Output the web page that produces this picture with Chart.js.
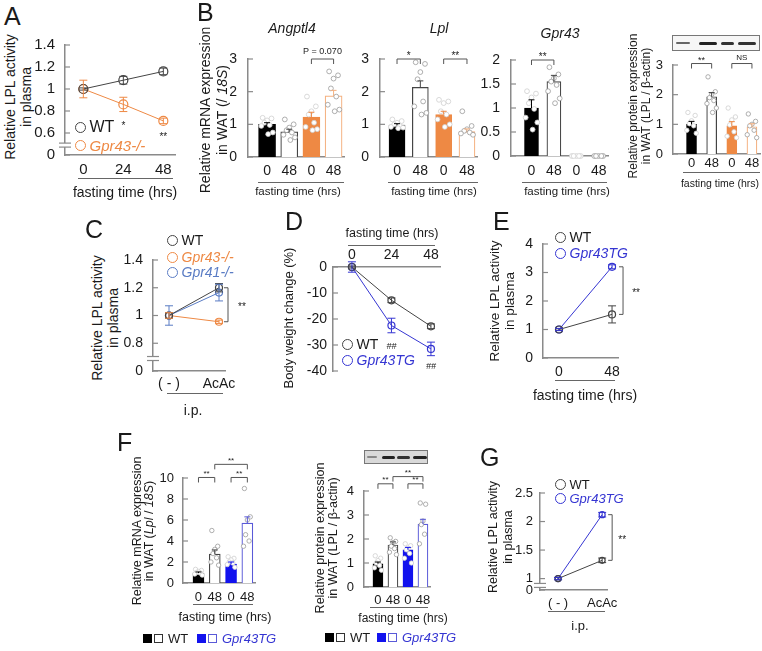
<!DOCTYPE html>
<html><head><meta charset="utf-8">
<script src="https://cdn.jsdelivr.net/npm/chart.js@4"></script>
<style>
body{margin:0;background:#fff;}
#fig{position:relative;width:762px;height:651px;overflow:hidden;font-family:"Liberation Sans",Arial,sans-serif;color:#1a1a1a;}
canvas{position:absolute;}
.t{position:absolute;white-space:nowrap;transform:translate(-50%,-50%);line-height:1;}
.r{transform:translate(-50%,-50%) rotate(-90deg);}
.lt{position:absolute;font-size:25px;line-height:1;}
.ul{position:absolute;height:0;border-top:1.2px solid #666;}
.dot{position:absolute;border-radius:50%;box-sizing:border-box;}
.sq{position:absolute;box-sizing:border-box;width:9px;height:9px;}
.blot{position:absolute;box-sizing:border-box;border:1px solid #777;}
.band{position:absolute;border-radius:2px;filter:blur(0.7px);}
</style></head><body><div id="fig"></div><script>
// ---------- data ----------
// A: plasma LPL activity during fasting
const aHours = [0, 24, 48];
const aHourLabels = ['0', '24', '48'];
const aWT = [1, 1.08, 1.16];
const aWTErr = [0.01, 0.035, 0.03];
const aKO = [1, 0.86, 0.71];
const aKOErr = [0.08, 0.065, 0.025];
const aYTicks = [0.4, 0.6, 0.8, 1, 1.2, 1.4];
const aYLabels = ['0', '0.6', '0.8', '1', '1.2', '1.4'];

// B: WAT expression, WT 0/48, Gpr43-/- 0/48
const bLabels = ['0', '48', '0', '48'];
const angMean = [1.0, 0.77, 1.22, 1.87];
const angErr = [0.05, 0.08, 0.15, 0.17];
const angDots = [[1.2, 1.18, 1.12, 1.05, 0.98, 0.95, 0.75, 0.7], [1.15, 1.0, 0.9, 0.82, 0.75, 0.68, 0.6, 0.52],
  [1.85, 1.55, 1.4, 1.3, 1.05, 0.92, 0.85, 0.82], [2.62, 2.5, 2.4, 2.1, 1.85, 1.6, 1.45, 1.4]];
const lplMean = [0.98, 2.13, 1.3, 0.78];
const lplErr = [0.04, 0.2, 0.1, 0.08];
const lplDots = [[1.15, 1.1, 1.05, 1.0, 0.95, 0.92, 0.9, 0.88], [2.9, 2.85, 2.6, 2.38, 1.7, 1.55, 1.35, 1.3],
  [1.75, 1.7, 1.65, 1.4, 1.3, 1.15, 1.0, 0.92], [1.4, 0.95, 0.85, 0.8, 0.75, 0.72, 0.68]];
const g43Mean = [1.0, 1.55, 0, 0];
const g43Err = [0.17, 0.13, 0, 0];
const g43Dots = [[1.35, 1.3, 1.22, 1.1, 0.98, 0.8, 0.7, 0.55], [1.85, 1.7, 1.62, 1.55, 1.48, 1.35, 1.2, 1.1],
  [0, 0, 0, 0, 0], [0, 0, 0, 0, 0]];
const protMean = [1.0, 1.93, 0.95, 0.92];
const protErr = [0.1, 0.14, 0.14, 0.1];
const protDots = [[1.4, 1.3, 1.12, 1.02, 0.95, 0.8, 0.7], [2.6, 2.1, 2.0, 1.9, 1.8, 1.7, 1.55, 1.4],
  [1.55, 1.25, 1.15, 0.98, 0.75, 0.6, 0.55], [1.35, 1.1, 1.0, 0.95, 0.8, 0.65, 0.55]];

// C: AcAc i.p.
const cDose = [0, 1];
const cLabels = ['( - )', 'AcAc'];
const cWT = [1, 1.2], cWTErr = [0.02, 0.03];
const c43 = [1, 0.955], c43Err = [0.02, 0.012];
const c41 = [1, 1.165], c41Err = [0.07, 0.06];
const cYTicks = [0.6, 0.8, 1, 1.2, 1.4];
const cYLabels = ['0', '0.8', '1', '1.2', '1.4'];

// D: body weight change
const dWT = [0, -12.8, -22.8], dWTErr = [0.4, 0.9, 0.9];
const dTG = [0, -22.5, -31.5], dTGErr = [2, 2.8, 2.6];
const dYTicks = [-40, -30, -20, -10, 0];

// E: plasma LPL, Gpr43TG
const eHours = [0, 48];
const eLabels = ['0', '48'];
const eWT = [1, 1.53], eWTErr = [0.03, 0.3];
const eTG = [1, 3.2], eTGErr = [0.04, 0.07];
const eYTicks = [0, 1, 2, 3, 4];

// F: WAT Lpl, WT vs Gpr43TG
const fMrnaMean = [0.95, 2.75, 1.8, 5.7];
const fMrnaErr = [0.1, 0.4, 0.2, 0.6];
const fMrnaDots = [[1.3, 1.2, 1.1, 1.0, 0.95, 0.85, 0.75], [5.0, 3.5, 3.2, 2.8, 2.4, 2.0, 1.7],
  [2.5, 2.35, 2.2, 2.0, 1.9, 1.75, 1.5], [9.0, 6.3, 6.0, 4.6, 4.0, 3.5]];
const fMrnaTicks = [0, 2, 4, 6, 8, 10];
const fProtMean = [0.97, 1.75, 1.55, 2.62];
const fProtErr = [0.07, 0.13, 0.1, 0.2];
const fProtDots = [[1.3, 1.2, 1.1, 1.0, 0.9, 0.8, 0.7], [2.05, 1.9, 1.85, 1.7, 1.6, 1.45, 1.35],
  [1.8, 1.72, 1.62, 1.55, 1.4, 1.2, 1.0], [3.5, 3.45, 2.75, 2.6, 2.2, 1.8]];
const fProtTicks = [0, 1, 2, 3, 4];

// G: AcAc i.p., Gpr43TG
const gWT = [1, 1.32], gWTErr = [0.02, 0.04];
const gTG = [1, 2.12], gTGErr = [0.02, 0.04];
const gYTicks = [0.8, 1, 1.5, 2, 2.5];
const gYLabels = ['0', '1', '1.5', '2', '2.5'];

// ---------- styles ----------
const FONT = '"Liberation Sans", Arial, sans-serif';
const AX = '#8a8a8a';
const WTC = '#444';
const OR = '#ee8944', ORL = '#f4b07f';
const B41 = '#5a7cc4';
const TG = '#3535d2';
const BF = '#1212ee', BFL = '#5a5ad8';
const JIT = [-0.2, 0.2, 0, -0.12, 0.12, -0.26, 0.26, 0.05];
const fig = document.getElementById('fig');

function seg(ctx, x1, y1, x2, y2) { ctx.beginPath(); ctx.moveTo(x1, y1); ctx.lineTo(x2, y2); ctx.stroke(); }
function label(ctx, s, x, cy, size, italic) {
  ctx.font = (italic ? 'italic ' : '') + size + 'px ' + FONT;
  ctx.textAlign = 'center'; ctx.textBaseline = 'alphabetic';
  const k = /^\*+$/.test(s) ? 0.57 : 0.36;
  ctx.fillText(s, x, cy + k * size);
}

// error bars, inward ticks, axis breaks, significance brackets
const deco = {
  id: 'deco',
  afterDatasetsDraw(chart, args, o) {
    const ctx = chart.ctx, xs = chart.scales.x, ys = chart.scales.y, a = chart.chartArea;
    ctx.save();
    ctx.lineWidth = 1.2; ctx.strokeStyle = AX;
    ys.ticks.forEach(t => { const py = ys.getPixelForValue(t.value); seg(ctx, a.left, py, a.left + 5, py); });
    if (o.brk != null) {
      const py = ys.getPixelForValue(o.brk);
      ctx.fillStyle = '#fff'; ctx.fillRect(a.left - 6, py - 2, 12, 4);
      seg(ctx, a.left - 6, py - 2, a.left + 6, py - 2); seg(ctx, a.left - 6, py + 2, a.left + 6, py + 2);
    }
    chart.data.datasets.forEach((ds, di) => {
      if (!ds.errs) return;
      chart.getDatasetMeta(di).data.forEach((el, i) => {
        const e = ds.errs[i]; if (!e) return;
        const v = ds.data[i].y, cw = ds.upOnly ? 3 : 4;
        const top = ys.getPixelForValue(v + e), bot = ys.getPixelForValue(ds.upOnly ? v : v - e);
        ctx.strokeStyle = Array.isArray(ds.errColor) ? ds.errColor[i] : ds.errColor;
        ctx.lineWidth = 1;
        seg(ctx, el.x, top, el.x, bot); seg(ctx, el.x - cw, top, el.x + cw, top);
        if (!ds.upOnly) seg(ctx, el.x - cw, bot, el.x + cw, bot);
      });
    });
    ctx.strokeStyle = '#555'; ctx.fillStyle = '#222'; ctx.lineWidth = 1;
    (o.hbr || []).forEach(b => {
      const x1 = xs.getPixelForValue(b.a), x2 = xs.getPixelForValue(b.b), py = ys.getPixelForValue(b.v);
      ctx.beginPath(); ctx.moveTo(x1, py + b.drop); ctx.lineTo(x1, py); ctx.lineTo(x2, py); ctx.lineTo(x2, py + b.drop); ctx.stroke();
      label(ctx, b.t, (x1 + x2) / 2, py - (b.gap || 6), b.size || 10, b.italic);
    });
    (o.vbr || []).forEach(b => {
      const px = xs.getPixelForValue(b.x) + b.dx, y1 = ys.getPixelForValue(b.v1), y2 = ys.getPixelForValue(b.v2);
      ctx.beginPath(); ctx.moveTo(px - 4, y1); ctx.lineTo(px, y1); ctx.lineTo(px, y2); ctx.lineTo(px - 4, y2); ctx.stroke();
      label(ctx, b.t, px + b.tdx, (y1 + y2) / 2, 10);
    });
    (o.notes || []).forEach(n => label(ctx, n.t, xs.getPixelForValue(n.x), ys.getPixelForValue(n.v), n.size || 10, n.italic));
    ctx.restore();
  }
};
Chart.register(deco);

function panel(c) {
  const P = 34, wy = 40, hx = 30;
  const cv = document.createElement('canvas');
  const cw = (c.R - c.L) + wy + 2 * P, ch = (c.B - c.T) + hx + 2 * P;
  cv.width = cw; cv.height = ch;
  cv.style.left = (c.L - wy - P) + 'px';
  cv.style.top = (c.xTop ? c.T - hx - P : c.T - P) + 'px';
  cv.style.width = cw + 'px'; cv.style.height = ch + 'px';
  fig.appendChild(cv);
  const border = { color: AX, width: 1.5 };
  new Chart(cv, {
    type: c.type,
    data: { datasets: c.datasets },
    options: {
      responsive: false, animation: false, devicePixelRatio: 1,
      layout: { padding: P },
      plugins: { legend: { display: false }, tooltip: { enabled: false }, deco: c.deco || {} },
      scales: {
        x: {
          type: 'linear', position: c.xTop ? 'top' : 'bottom', min: c.xmin, max: c.xmax, offset: false,
          grid: { display: false, drawTicks: false }, border,
          afterBuildTicks: s => { s.ticks = c.xTicks.map(v => ({ value: v })); },
          afterFit: s => { s.height = hx; },
          ticks: { callback: (v, i) => c.xLabels[i], padding: c.xPad, color: '#1a1a1a', maxRotation: 0, autoSkip: false,
            font: { family: FONT, size: c.fx, lineHeight: 1 } }
        },
        y: {
          type: 'linear', min: c.ymin, max: c.ymax,
          grid: { display: false, drawTicks: false }, border,
          afterBuildTicks: s => { s.ticks = c.yTicks.map(v => ({ value: v })); },
          afterFit: s => { s.width = wy; },
          ticks: { callback: (v, i) => c.yLabels[i], padding: c.yPad, color: '#1a1a1a', autoSkip: false,
            font: { family: FONT, size: c.fy, lineHeight: 1 } }
        }
      }
    }
  });
}

function lineSet(xs, ys, errs, color, r) {
  return { type: 'line', data: xs.map((x, i) => ({ x, y: ys[i] })), errs, errColor: color,
    borderColor: color, borderWidth: 1, pointRadius: r, pointBorderWidth: 1.2,
    pointBackgroundColor: 'rgba(255,255,255,0)', pointBorderColor: color, clip: false, tension: 0 };
}
function barSets(means, errs, dots, st) {
  const pts = [], bc = [], fc = [];
  dots.forEach((arr, i) => arr.forEach((v, k) => {
    pts.push({ x: i + JIT[k % JIT.length] * st.j, y: v });
    bc.push(st.filled[i] ? '#cfcfcf' : '#9a9a9a'); fc.push('#fff');
  }));
  return [
    { type: 'bar', order: 2, data: means.map((m, i) => ({ x: i, y: m })), errs, upOnly: true, errColor: st.err,
      backgroundColor: st.fill, borderColor: st.line, borderWidth: 1.2, barThickness: st.w },
    { type: 'scatter', order: 1, data: pts, pointRadius: st.r, pointBorderWidth: 0.8,
      pointBorderColor: bc, pointBackgroundColor: fc, clip: false }
  ];
}

// ---------- html helpers ----------
function txt(x, y, s, o = {}) {
  const d = document.createElement('div');
  d.className = 't' + (o.rot ? ' r' : '');
  d.style.left = x + 'px'; d.style.top = y + 'px';
  d.style.fontSize = (o.size || 14) + 'px';
  if (o.color) d.style.color = o.color;
  if (o.italic) d.style.fontStyle = 'italic';
  d.innerHTML = s;
  fig.appendChild(d);
}
function letter(x, y, s) {
  const d = document.createElement('div');
  d.className = 'lt'; d.style.left = x + 'px'; d.style.top = (y - 3) + 'px'; d.textContent = s;
  fig.appendChild(d);
}
function uline(x1, x2, y) {
  const d = document.createElement('div');
  d.className = 'ul'; d.style.left = x1 + 'px'; d.style.top = y + 'px'; d.style.width = (x2 - x1) + 'px';
  fig.appendChild(d);
}
function legend(x, y, s, color, size, italic, dia) {
  const c = document.createElement('div');
  c.className = 'dot';
  const dd = dia || 11;
  c.style.cssText += `left:${x - dd / 2}px;top:${y - dd / 2}px;width:${dd}px;height:${dd}px;border:1.5px solid ${color};`;
  fig.appendChild(c);
  const d = document.createElement('div');
  d.className = 't';
  d.style.cssText += `left:${x + dd / 2 + 4}px;top:${y}px;transform:translate(0,-50%);font-size:${size}px;color:${color === WTC ? '#1a1a1a' : color};${italic ? 'font-style:italic;' : ''}`;
  d.textContent = s;
  fig.appendChild(d);
}
function sqLegend(x, y, tgLeft) {
  const mk = (l, bg, bd) => { const s = document.createElement('div'); s.className = 'sq';
    s.style.cssText += `left:${l}px;top:${y - 4.5}px;background:${bg};border:1px solid ${bd};`; fig.appendChild(s); };
  mk(x, '#000', '#000'); mk(x + 11, '#fff', '#333');
  txt(x + 25, y, 'WT', { size: 13 }); fig.lastChild.style.transform = 'translate(0,-50%)';
  mk(tgLeft, BF, BF); mk(tgLeft + 11, '#fff', BFL);
  txt(tgLeft + 25, y, 'Gpr43TG', { size: 13, italic: true, color: TG }); fig.lastChild.style.transform = 'translate(0,-50%)';
}
function blot(l, t, w, h, bg, bands) {
  const b = document.createElement('div');
  b.className = 'blot'; b.style.cssText += `left:${l}px;top:${t}px;width:${w}px;height:${h}px;background:${bg};`;
  fig.appendChild(b);
  bands.forEach(([x1, x2, th, col]) => {
    const s = document.createElement('div'); s.className = 'band';
    s.style.cssText += `left:${x1}px;top:${t + h / 2 - th / 2}px;width:${x2 - x1}px;height:${th}px;background:${col};`;
    fig.appendChild(s);
  });
}

// ---------- A ----------
letter(4, 7, 'A');
txt(10, 97, 'Relative LPL activity', { rot: true, size: 14 });
txt(26, 97, 'in plasma', { rot: true, size: 14 });
panel({ type: 'line', L: 65, R: 175, T: 45, B: 155, xmin: -11, xmax: 55, xTicks: aHours, xLabels: aHourLabels,
  ymin: 0.4, ymax: 1.4, yTicks: aYTicks, yLabels: aYLabels, fx: 15, fy: 15, xPad: 7, yPad: 10,
  datasets: [lineSet(aHours, aWT, aWTErr, WTC, 4.5), lineSet(aHours, aKO, aKOErr, OR, 4.5)],
  deco: { brk: 0.49, notes: [{ x: 24, v: 0.69, t: '*' }, { x: 48, v: 0.59, t: '**' }] } });
legend(80, 127, 'WT', WTC, 16);
legend(80, 145, 'Gpr43-/-', OR, 15, true);
uline(78, 173, 178);
txt(125, 192, 'fasting time (hrs)', { size: 14 });

// ---------- B ----------
letter(197, 3, 'B');
txt(205, 110, 'Relative mRNA expression', { rot: true, size: 14 });
txt(222, 110, 'in WAT (/ <i>18S</i>)', { rot: true, size: 14 });
const bStyle = w => ({ w, j: 1, r: 2.4, fill: ['#000', '#fff', OR, '#fff'], line: ['#000', '#444', OR, ORL],
  err: ['#000', '#444', OR, ORL], filled: [true, false, true, false] });
panel({ type: 'bar', L: 248, R: 344, T: 59, B: 157, xmin: -0.86, xmax: 3.47, xTicks: [0, 1, 2, 3], xLabels: bLabels,
  ymin: 0, ymax: 3, yTicks: [0, 1, 2, 3], yLabels: ['0', '1', '2', '3'], fx: 14, fy: 14, xPad: 7, yPad: 11,
  datasets: barSets(angMean, angErr, angDots, bStyle(17)),
  deco: { hbr: [{ a: 2, b: 3, v: 3, drop: 5, t: 'P = 0.070', size: 9, gap: 8 }] } });
txt(292, 28, 'Angptl4', { size: 14, italic: true });
uline(258, 344, 182);
txt(298, 192, 'fasting time (hrs)', { size: 11.5 });

panel({ type: 'bar', L: 380, R: 477, T: 59, B: 157, xmin: -0.73, xmax: 3.43, xTicks: [0, 1, 2, 3], xLabels: bLabels,
  ymin: 0, ymax: 3, yTicks: [0, 1, 2, 3], yLabels: ['0', '1', '2', '3'], fx: 14, fy: 14, xPad: 7, yPad: 11,
  datasets: barSets(lplMean, lplErr, lplDots, bStyle(16)),
  deco: { hbr: [{ a: 0, b: 1, v: 3, drop: 5, t: '*' }, { a: 2, b: 3, v: 3, drop: 5, t: '**' }] } });
txt(439, 28, 'Lpl', { size: 14, italic: true });
uline(388, 478, 182);
txt(434, 192, 'fasting time (hrs)', { size: 11.5 });

panel({ type: 'bar', L: 511, R: 608, T: 60, B: 156, xmin: -0.915, xmax: 3.415, xTicks: [0, 1, 2, 3], xLabels: bLabels,
  ymin: 0, ymax: 2, yTicks: [0, 0.5, 1, 1.5, 2], yLabels: ['0', '0.5', '1', '1.5', '2'], fx: 14, fy: 14, xPad: 8, yPad: 11,
  datasets: barSets(g43Mean, g43Err, g43Dots, bStyle(14)),
  deco: { hbr: [{ a: 0, b: 1, v: 2, drop: 5, t: '**' }] } });
txt(560, 33, 'Gpr43', { size: 14, italic: true });
uline(522, 607, 182);
txt(567, 192, 'fasting time (hrs)', { size: 11.5 });

txt(633, 106, 'Relative protein expression', { rot: true, size: 12 });
txt(646, 106, 'in WAT (LPL / β-actin)', { rot: true, size: 12 });
blot(672, 35, 88, 16, '#f6f6f6', [[676, 690, 2, '#666'], [699, 717, 3, '#222'], [721, 734, 3, '#333'], [738, 756, 3, '#333']]);
panel({ type: 'bar', L: 673, R: 760, T: 65, B: 154, xmin: -0.92, xmax: 3.4, xTicks: [0, 1, 2, 3], xLabels: bLabels,
  ymin: 0, ymax: 3, yTicks: [0, 1, 2, 3], yLabels: ['0', '1', '2', '3'], fx: 13, fy: 13, xPad: 3, yPad: 10,
  datasets: barSets(protMean, protErr, protDots, { ...bStyle(10), r: 2.2, j: 0.9 }),
  deco: { hbr: [{ a: 0, b: 1, v: 3.05, drop: 5, t: '**', size: 9 }, { a: 2, b: 3, v: 3.05, drop: 5, t: 'NS', size: 8 }] } });
uline(683, 760, 172);
txt(720, 183, 'fasting time (hrs)', { size: 10.5 });

// ---------- C ----------
letter(85, 220, 'C');
txt(97, 318, 'Relative LPL activity', { rot: true, size: 14 });
txt(113, 318, 'in plasma', { rot: true, size: 14 });
panel({ type: 'line', L: 153, R: 225, T: 260, B: 371, xmin: -0.32, xmax: 1.12, xTicks: cDose, xLabels: cLabels,
  ymin: 0.6, ymax: 1.4, yTicks: cYTicks, yLabels: cYLabels, fx: 14, fy: 14, xPad: 6, yPad: 10,
  datasets: [lineSet(cDose, cWT, cWTErr, WTC, 3.5), lineSet(cDose, c41, c41Err, B41, 3.5), lineSet(cDose, c43, c43Err, OR, 3.5)],
  deco: { brk: 0.69, vbr: [{ x: 1, dx: 9, v1: 1.2, v2: 0.955, t: '**', tdx: 14 }] } });
legend(172, 240, 'WT', WTC, 14);
legend(172, 257, 'Gpr43-/-', OR, 14, true);
legend(172, 272, 'Gpr41-/-', B41, 14, true);
uline(167, 223, 393);
txt(193, 410, 'i.p.', { size: 14 });

// ---------- D ----------
letter(285, 212, 'D');
txt(288, 318, 'Body weight change (%)', { rot: true, size: 13 });
txt(392, 233, 'fasting time (hrs)', { size: 12.5 });
uline(348, 435, 245);
panel({ type: 'line', xTop: true, L: 333, R: 440, T: 267, B: 371, xmin: -11.5, xmax: 53.5, xTicks: aHours, xLabels: aHourLabels,
  ymin: -40, ymax: 0, yTicks: dYTicks, yLabels: dYTicks.map(String), fx: 14, fy: 14, xPad: 5, yPad: 6,
  datasets: [lineSet(aHours, dWT, dWTErr, WTC, 3.5), lineSet(aHours, dTG, dTGErr, TG, 3.5)],
  deco: { notes: [{ x: 24, v: -30.4, t: '##', size: 9, italic: true }, { x: 48, v: -38, t: '##', size: 9, italic: true }] } });
legend(347, 344, 'WT', WTC, 14);
legend(347, 360, 'Gpr43TG', TG, 14, true);

// ---------- E ----------
letter(493, 212, 'E');
txt(495, 301, 'Relative LPL activity', { rot: true, size: 13.5 });
txt(510, 301, 'in plasma', { rot: true, size: 13.5 });
panel({ type: 'line', L: 543, R: 618, T: 244, B: 358, xmin: -14.5, xmax: 53.4, xTicks: eHours, xLabels: eLabels,
  ymin: 0, ymax: 4, yTicks: eYTicks, yLabels: eYTicks.map(String), fx: 14, fy: 14, xPad: 7, yPad: 10,
  datasets: [lineSet(eHours, eWT, eWTErr, WTC, 3.5), lineSet(eHours, eTG, eTGErr, TG, 3.5)],
  deco: { vbr: [{ x: 48, dx: 11, v1: 3.2, v2: 1.53, t: '**', tdx: 13 }] } });
legend(560, 237, 'WT', WTC, 14);
legend(560, 253, 'Gpr43TG', TG, 14, true);
uline(555, 615, 380);
txt(585, 395, 'fasting time (hrs)', { size: 14 });

// ---------- F ----------
letter(117, 433, 'F');
txt(137, 531, 'Relative mRNA expression', { rot: true, size: 12.5 });
txt(149, 531, 'in WAT (<i>Lpl</i> / <i>18S</i>)', { rot: true, size: 12.5 });
const fStyle = w => ({ w, j: 0.9, r: 2.2, fill: ['#000', '#fff', BF, '#fff'], line: ['#000', '#444', BF, BFL],
  err: ['#000', '#444', BF, BFL], filled: [true, false, true, false] });
panel({ type: 'bar', L: 183, R: 255, T: 478, B: 583, xmin: -0.95, xmax: 3.47, xTicks: [0, 1, 2, 3], xLabels: bLabels,
  ymin: 0, ymax: 10, yTicks: fMrnaTicks, yLabels: fMrnaTicks.map(String), fx: 13, fy: 13, xPad: 7.5, yPad: 9,
  datasets: barSets(fMrnaMean, fMrnaErr, fMrnaDots, fStyle(11)),
  deco: { hbr: [{ a: 0, b: 1, v: 10.05, drop: 5, t: '**', size: 8 }, { a: 2, b: 3, v: 10.05, drop: 5, t: '**', size: 8 },
    { a: 1, b: 3, v: 11.3, drop: 5, t: '**', size: 8 }] } });
uline(193, 253, 604);
txt(225, 617, 'fasting time (hrs)', { size: 12.5 });
sqLegend(143, 638, 197);

txt(320, 538, 'Relative protein expression', { rot: true, size: 12.5 });
txt(333, 538, 'in WAT (LPL / β-actin)', { rot: true, size: 12.5 });
blot(364, 450, 64, 14, '#d9d9d9', [[367, 377, 2, '#888'], [382, 395, 3, '#222'], [397, 410, 3, '#333'], [413, 427, 3, '#222']]);
panel({ type: 'bar', L: 364, R: 430, T: 491, B: 587, xmin: -0.93, xmax: 3.47, xTicks: [0, 1, 2, 3], xLabels: bLabels,
  ymin: 0, ymax: 4, yTicks: fProtTicks, yLabels: fProtTicks.map(String), fx: 13, fy: 13, xPad: 6.5, yPad: 10,
  datasets: barSets(fProtMean, fProtErr, fProtDots, fStyle(10)),
  deco: { hbr: [{ a: 0, b: 1, v: 4.3, drop: 5, t: '**', size: 8 }, { a: 2, b: 3, v: 4.3, drop: 5, t: '**', size: 8 },
    { a: 1, b: 3, v: 4.6, drop: 5, t: '**', size: 8 }] } });
uline(370, 428, 607);
txt(403, 618, 'fasting time (hrs)', { size: 12 });
sqLegend(325, 637, 377);

// ---------- G ----------
letter(480, 448, 'G');
txt(493, 537, 'Relative LPL activity', { rot: true, size: 12.5 });
txt(508, 537, 'in plasma', { rot: true, size: 12.5 });
panel({ type: 'line', L: 540, R: 607, T: 493, B: 590, xmin: -0.41, xmax: 1.11, xTicks: cDose, xLabels: cLabels,
  ymin: 0.8, ymax: 2.5, yTicks: gYTicks, yLabels: gYLabels, fx: 13, fy: 13, xPad: 6.5, yPad: 7,
  datasets: [lineSet(cDose, gWT, gWTErr, WTC, 3), lineSet(cDose, gTG, gTGErr, TG, 3)],
  deco: { brk: 0.88, vbr: [{ x: 1, dx: 10, v1: 2.12, v2: 1.32, t: '**', tdx: 10 }] } });
legend(560, 484, 'WT', WTC, 13);
legend(560, 498, 'Gpr43TG', TG, 13, true);
uline(548, 605, 611);
txt(580, 625, 'i.p.', { size: 13 });
</script></body></html>
